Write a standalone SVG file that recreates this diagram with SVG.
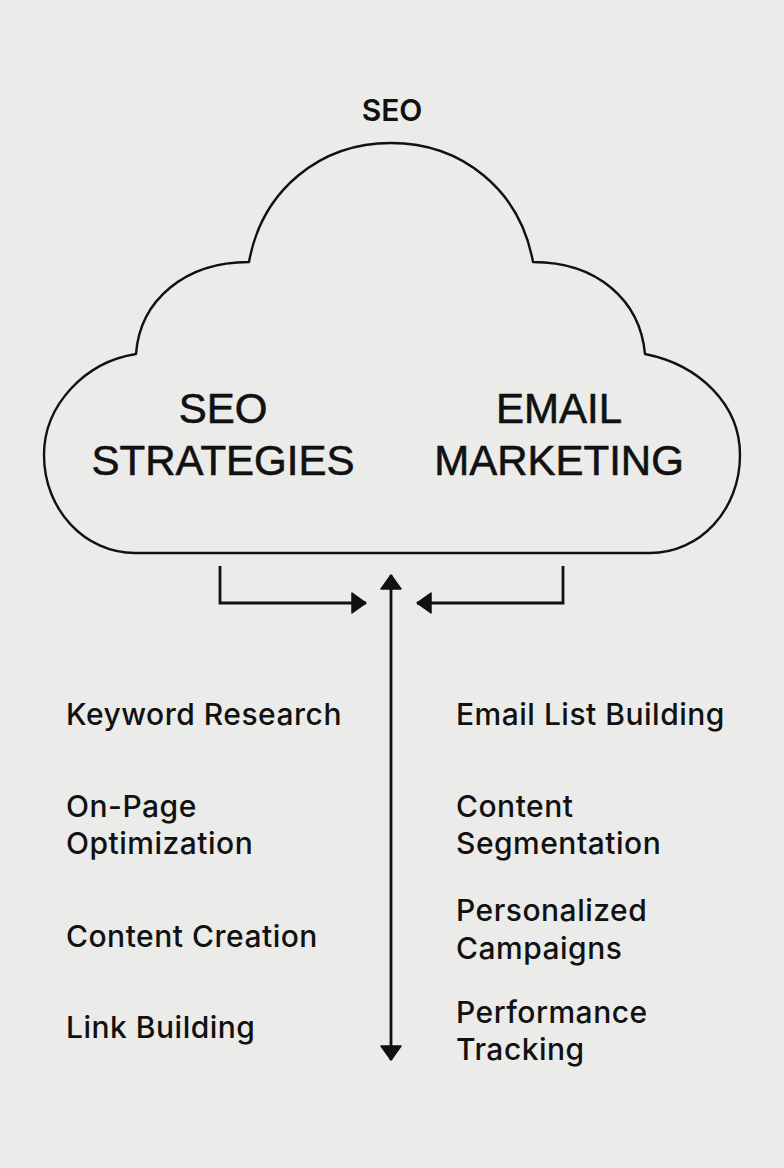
<svg xmlns="http://www.w3.org/2000/svg" width="784" height="1168" viewBox="0 0 784 1168">
  <style>
    .bg { fill: #ebebea; }
    .cloud { fill: none; stroke: #111; stroke-width: 2.4; stroke-linejoin: round; }
    .big { font-family: "Liberation Sans", Arial, sans-serif; font-size: 42px; fill: #111; stroke: #111; stroke-width: 0.6; text-anchor: middle; }
    .title { font-family: Inter, "Liberation Sans", sans-serif; font-size: 30px; font-weight: 600; fill: #111; text-anchor: middle; }
    .item { font-family: Inter, "Liberation Sans", sans-serif; font-size: 30px; font-weight: 500; letter-spacing: 0.5px; fill: #111; }
    .conn { fill: none; stroke: #111; stroke-width: 2.8; }
  </style>
  <defs>
    <marker id="ah" markerUnits="userSpaceOnUse" markerWidth="18" markerHeight="24" refX="15" refY="11" orient="auto-start-reverse" viewBox="0 0 18 22">
      <path d="M1,1 L15,11 L1,21 Z" fill="#111" stroke="#111" stroke-width="1.5" stroke-linejoin="round"/>
    </marker>
  </defs>
  <rect class="bg" x="0" y="0" width="784" height="1168"/>

  <g id="title">
    <text class="title" x="392" y="121">SEO</text>
  </g>

  <g id="cloud">
    <path class="cloud" d="M136,354 C140,300 185,262 249,262 C262,190 320,143 391,143 C462,143 520,190 533,262 C597,262 640,300 645,354 C700,365 740,405 740,455 C740,510 700,553 650,553 L135,553 C85,553 44,510 44,455 C44,405 85,362 136,354 Z"/>
    <text class="big" x="223" y="423">SEO</text>
    <text class="big" x="223" y="475">STRATEGIES</text>
    <text class="big" x="559" y="423">EMAIL</text>
    <text class="big" x="559" y="475">MARKETING</text>
  </g>

  <g id="connectors">
    <path class="conn" d="M220,566 L220,603 L366,603" marker-end="url(#ah)"/>
    <path class="conn" d="M563,566 L563,603 L417,603" marker-end="url(#ah)"/>
    <path class="conn" d="M391,575 L391,1060" marker-start="url(#ah)" marker-end="url(#ah)"/>
  </g>

  <g id="seo-items">
    <text class="item" x="66" y="725">Keyword Research</text>
    <text class="item" x="66" y="817">On-Page</text>
    <text class="item" x="66" y="854">Optimization</text>
    <text class="item" x="66" y="947">Content Creation</text>
    <text class="item" x="66" y="1038">Link Building</text>
  </g>

  <g id="email-items">
    <text class="item" x="456" y="725">Email List Building</text>
    <text class="item" x="456" y="817">Content</text>
    <text class="item" x="456" y="854">Segmentation</text>
    <text class="item" x="456" y="921">Personalized</text>
    <text class="item" x="456" y="959">Campaigns</text>
    <text class="item" x="456" y="1023">Performance</text>
    <text class="item" x="456" y="1060">Tracking</text>
  </g>
</svg>
